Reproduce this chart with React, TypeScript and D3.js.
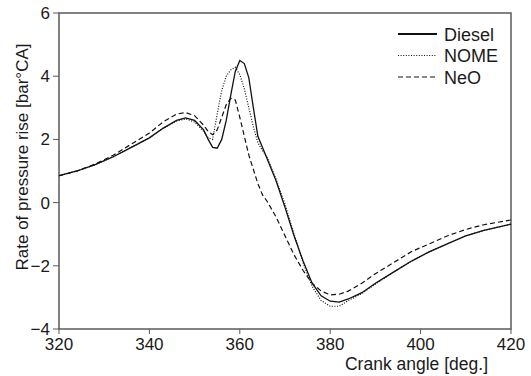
import * as d3 from "d3";

// ── Data ──────────────────────────────────────────────────────
const ANGLES = [320,324,328,332,336,340,343,346,348,350,352,353,354,355,356,357,358,359,360,361,362,363,364,365,366,368,370,372,374,376,378,380,382,384,387,390,394,398,402,406,410,414,420];

const DIESEL = [0.85,1.0,1.2,1.45,1.75,2.05,2.35,2.6,2.68,2.6,2.3,2.0,1.75,1.72,2.0,2.6,3.4,4.15,4.5,4.4,3.95,3.0,2.1,1.75,1.4,0.7,-0.15,-1.05,-1.85,-2.55,-2.95,-3.12,-3.15,-3.05,-2.85,-2.55,-2.2,-1.85,-1.55,-1.3,-1.05,-0.88,-0.68];
const NOME = [0.85,1.0,1.2,1.45,1.75,2.05,2.35,2.58,2.65,2.55,2.25,2.05,2.0,2.8,3.55,4.0,4.2,4.28,4.05,3.6,3.0,2.4,1.9,1.65,1.45,0.75,-0.05,-1.0,-1.9,-2.65,-3.1,-3.28,-3.28,-3.1,-2.88,-2.58,-2.2,-1.85,-1.55,-1.3,-1.05,-0.88,-0.68];
const NEO = [0.85,1.0,1.22,1.5,1.85,2.2,2.55,2.8,2.85,2.75,2.45,2.25,2.15,2.3,2.7,3.1,3.3,3.25,2.7,2.1,1.5,1.05,0.6,0.25,0.05,-0.45,-1.05,-1.65,-2.15,-2.55,-2.8,-2.92,-2.9,-2.8,-2.55,-2.25,-1.9,-1.55,-1.3,-1.05,-0.85,-0.7,-0.55];

const SERIES = [
  { name: "Diesel", values: DIESEL, dash: "none" },
  { name: "NOME", values: NOME, dash: "1,1.6" },
  { name: "NeO", values: NEO, dash: "5,3" },
];

const X_TICKS = [320, 340, 360, 380, 400, 420];
const Y_TICKS = [-4, -2, 0, 2, 4, 6];

const W = 531;
const H = 376;
const M = { left: 59, right: 20, top: 13, bottom: 47 };
const FONT = "'Liberation Sans', Arial, Helvetica, sans-serif";
const AXIS = "#5a5a5a";
const INK = "#1a1a1a";

export default function App() {
  const x = d3.scaleLinear().domain([320, 420]).range([M.left, W - M.right]);
  const y = d3.scaleLinear().domain([-4, 6]).range([H - M.bottom, M.top]);

  const line = d3
    .line<number>()
    .x((_d, i) => x(ANGLES[i]))
    .y((d) => y(d))
    .curve(d3.curveLinear);

  return (
    <svg
      width={W}
      height={H}
      style={{ position: "absolute", left: 0, top: 0, background: "#fff" }}
      fontFamily={FONT}
    >
      {/* plot frame */}
      <rect
        x={M.left}
        y={M.top}
        width={W - M.right - M.left}
        height={H - M.bottom - M.top}
        fill="none"
        stroke={AXIS}
        strokeWidth={1.5}
      />

      {/* x ticks */}
      {X_TICKS.map((t) => (
        <g key={"x" + t}>
          <line x1={x(t)} x2={x(t)} y1={y(-4)} y2={y(-4) + 5} stroke={AXIS} strokeWidth={1} />
          <text x={x(t)} y={350} textAnchor="middle" fontSize={17} fill={INK}>
            {t}
          </text>
        </g>
      ))}

      {/* y ticks */}
      {Y_TICKS.map((t) => (
        <g key={"y" + t}>
          <line x1={M.left - 6} x2={M.left} y1={y(t)} y2={y(t)} stroke={AXIS} strokeWidth={1} />
          <text x={M.left - 9} y={y(t) + 6} textAnchor="end" fontSize={17} fill={INK}>
            {t < 0 ? "\u2212" + Math.abs(t) : t}
          </text>
        </g>
      ))}

      {/* axis titles */}
      <text x={488} y={370} textAnchor="end" fontSize={17.5} fill={INK}>
        Crank angle [deg.]
      </text>
      <text
        transform="translate(28, 157) rotate(-90)"
        textAnchor="middle"
        fontSize={17}
        fill={INK}
      >
        Rate of pressure rise [bar°CA]
      </text>

      {/* curves */}
      {SERIES.map((s) => (
        <path
          key={s.name}
          d={line(s.values) ?? ""}
          fill="none"
          stroke="#111"
          strokeWidth={s.name === "Diesel" ? 1.3 : 1.2}
          strokeDasharray={s.dash}
        />
      ))}

      {/* legend */}
      {SERIES.map((s, i) => {
        const ly = 34 + i * 21.5;
        return (
          <g key={"lg" + s.name}>
            <line
              x1={398}
              x2={437}
              y1={ly}
              y2={ly}
              stroke="#111"
              strokeWidth={s.name === "Diesel" ? 1.8 : 1.2}
              strokeDasharray={s.dash}
            />
            <text x={444} y={ly + 6.5} fontSize={18} fill={INK}>
              {s.name}
            </text>
          </g>
        );
      })}
    </svg>
  );
}
